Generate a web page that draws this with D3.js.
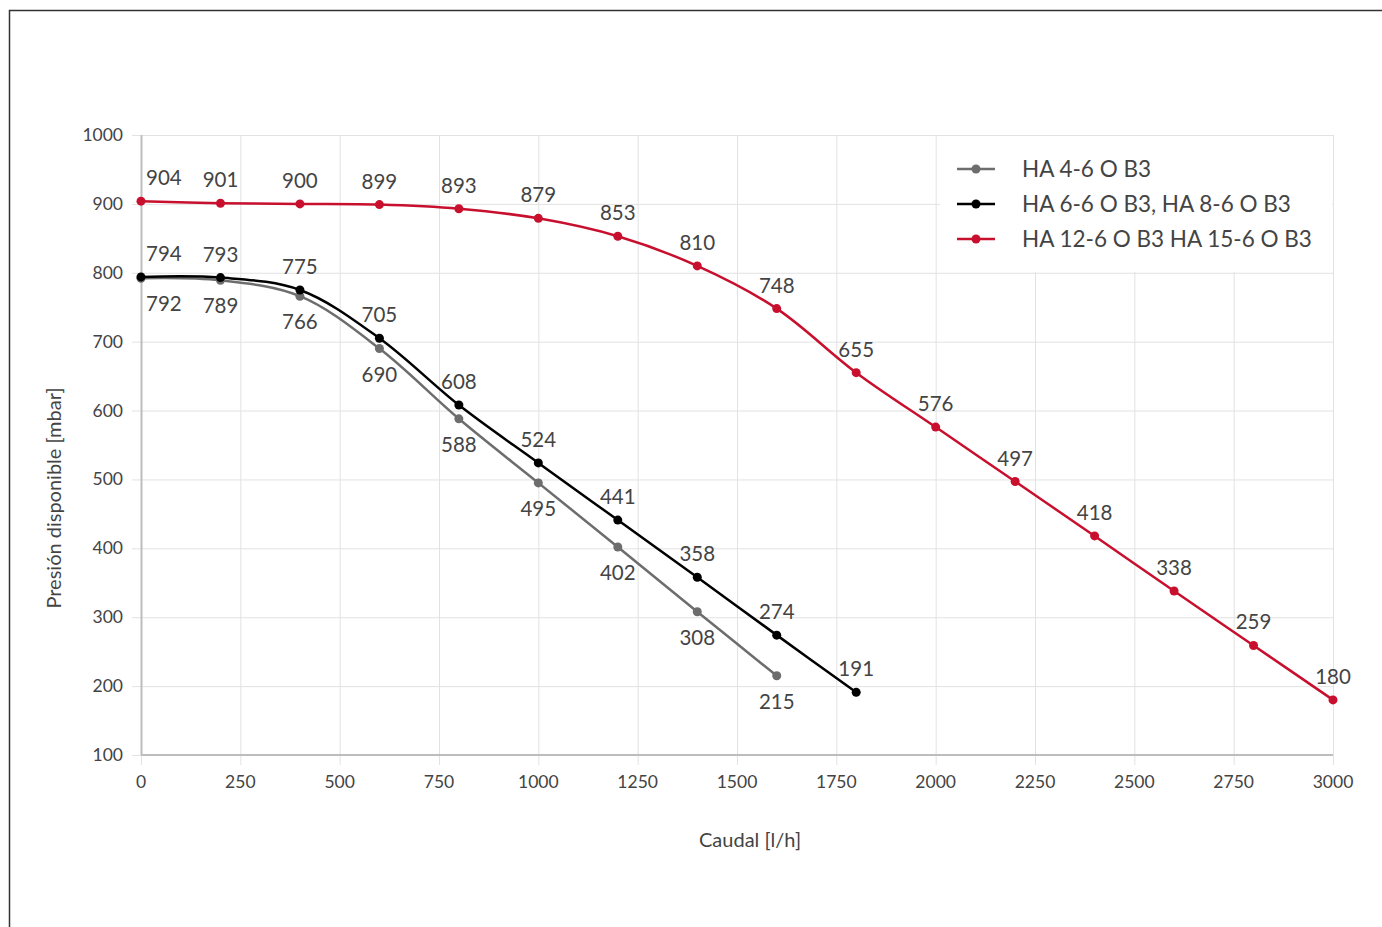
<!DOCTYPE html>
<html>
<head>
<meta charset="utf-8">
<script src="https://cdn.jsdelivr.net/npm/d3@7"></script>
<style>
  body { margin: 0; background: #fff; }
  text { font-family: Lato, "Open Sans", sans-serif; fill: #444; }
</style>
</head>
<body>
<svg width="1382" height="927"></svg>
<script>
// caudal values (l/h)
var caudal = [0, 200, 400, 600, 800, 1000, 1200, 1400, 1600, 1800, 2000, 2200, 2400, 2600, 2800, 3000];
var ha4 = [792, 789, 766, 690, 588, 495, 402, 308, 215];
var ha6 = [794, 793, 775, 705, 608, 524, 441, 358, 274, 191];
var ha12 = [904, 901, 900, 899, 893, 879, 853, 810, 748, 655, 576, 497, 418, 338, 259, 180];
var xTicks = [0, 250, 500, 750, 1000, 1250, 1500, 1750, 2000, 2250, 2500, 2750, 3000];
var yTicks = [100, 200, 300, 400, 500, 600, 700, 800, 900, 1000];
var names = ["HA 4-6 O B3", "HA 6-6 O B3, HA 8-6 O B3", "HA 12-6 O B3 HA 15-6 O B3"];

var svg = d3.select("svg"),
    margin = {top: 135, right: 49, bottom: 172, left: 141},
    width = +svg.attr("width") - margin.left - margin.right,
    height = +svg.attr("height") - margin.top - margin.bottom;

// outer frame (left + top only visible)
svg.append("path")
    .attr("d", "M9.5,927 L9.5,10.5 L1382,10.5")
    .attr("fill", "none")
    .attr("stroke", "#333")
    .attr("stroke-width", 1.5);

var g = svg.append("g").attr("transform", "translate(" + margin.left + "," + margin.top + ")");

var x = d3.scaleLinear().domain([0, 3000]).range([0, width]);
var y = d3.scaleLinear().domain([100, 1000]).range([height, 0]);

// grid
g.append("g")
    .selectAll("line.h").data(yTicks).enter().append("line")
    .attr("x1", -9).attr("x2", width)
    .attr("y1", function(d) { return y(d) + 0.5; })
    .attr("y2", function(d) { return y(d) + 0.5; })
    .attr("stroke", "#e2e2e2");
g.append("g")
    .selectAll("line.v").data(xTicks).enter().append("line")
    .attr("y1", 0).attr("y2", height + 10)
    .attr("x1", function(d) { return x(d) + 0.5; })
    .attr("x2", function(d) { return x(d) + 0.5; })
    .attr("stroke", "#e2e2e2");

// axes lines
g.append("line").attr("x1", 0.5).attr("x2", 0.5).attr("y1", 0).attr("y2", height)
    .attr("stroke", "#bdbdbd").attr("stroke-width", 2);
g.append("line").attr("x1", 0).attr("x2", width).attr("y1", height).attr("y2", height)
    .attr("stroke", "#bdbdbd").attr("stroke-width", 2);

// tick labels
g.selectAll("text.yt").data(yTicks).enter().append("text")
    .attr("x", -18).attr("y", function(d) { return y(d) + 6; })
    .attr("text-anchor", "end").style("font-size", "17.5px")
    .text(function(d) { return d; });
g.selectAll("text.xt").data(xTicks).enter().append("text")
    .attr("x", function(d) { return x(d); }).attr("y", height + 33)
    .attr("text-anchor", "middle").style("font-size", "17.5px")
    .text(function(d) { return d; });

// axis titles
g.append("text")
    .attr("x", 609).attr("y", height + 92)
    .attr("text-anchor", "middle").style("font-size", "20px")
    .text("Caudal [l/h]");
g.append("text")
    .attr("transform", "translate(-80,363) rotate(-90)")
    .attr("text-anchor", "middle").style("font-size", "20px")
    .text("Presión disponible [mbar]");

// legend box (covers grid)
var legend = g.append("g").attr("transform", "translate(" + (width - 393) + ",0)");
legend.append("rect").attr("x", 0).attr("y", 1).attr("width", 392).attr("height", 136).attr("fill", "#fff");

var series = [
  {vals: ha4, color: "#6d6d6d", labelDy: 33},
  {vals: ha6, color: "#000000", labelDy: -16},
  {vals: ha12, color: "#c8102e", labelDy: -16}
];

var line = d3.line()
    .x(function(d, i) { return x(caudal[i]); })
    .y(function(d) { return y(d); })
    .curve(d3.curveCatmullRom.alpha(0.5));

series.forEach(function(s, k) {
  g.append("path")
      .datum(s.vals)
      .attr("fill", "none")
      .attr("stroke", s.color)
      .attr("stroke-width", 2.5)
      .attr("stroke-linejoin", "round")
      .attr("d", line);
  g.selectAll("circle.s" + k).data(s.vals).enter().append("circle")
      .attr("cx", function(d, i) { return x(caudal[i]); })
      .attr("cy", function(d) { return y(d); })
      .attr("r", 4.5)
      .attr("fill", s.color);
  g.selectAll("text.s" + k).data(s.vals).enter().append("text")
      .attr("x", function(d, i) { return i === 0 ? x(caudal[i]) + 5 : x(caudal[i]); })
      .attr("y", function(d) { return y(d) + s.labelDy; })
      .attr("text-anchor", function(d, i) { return i === 0 ? "start" : "middle"; })
      .style("font-size", "20.5px")
      .text(function(d) { return d; });

  var ly = 34 + k * 35;
  legend.append("line").attr("x1", 17).attr("x2", 55).attr("y1", ly).attr("y2", ly)
      .attr("stroke", s.color).attr("stroke-width", 2.5);
  legend.append("circle").attr("cx", 36).attr("cy", ly).attr("r", 4.5).attr("fill", s.color);
  legend.append("text").attr("x", 82).attr("y", ly + 8)
      .style("font-size", "22.5px").text(names[k]);
});
</script>
</body>
</html>
